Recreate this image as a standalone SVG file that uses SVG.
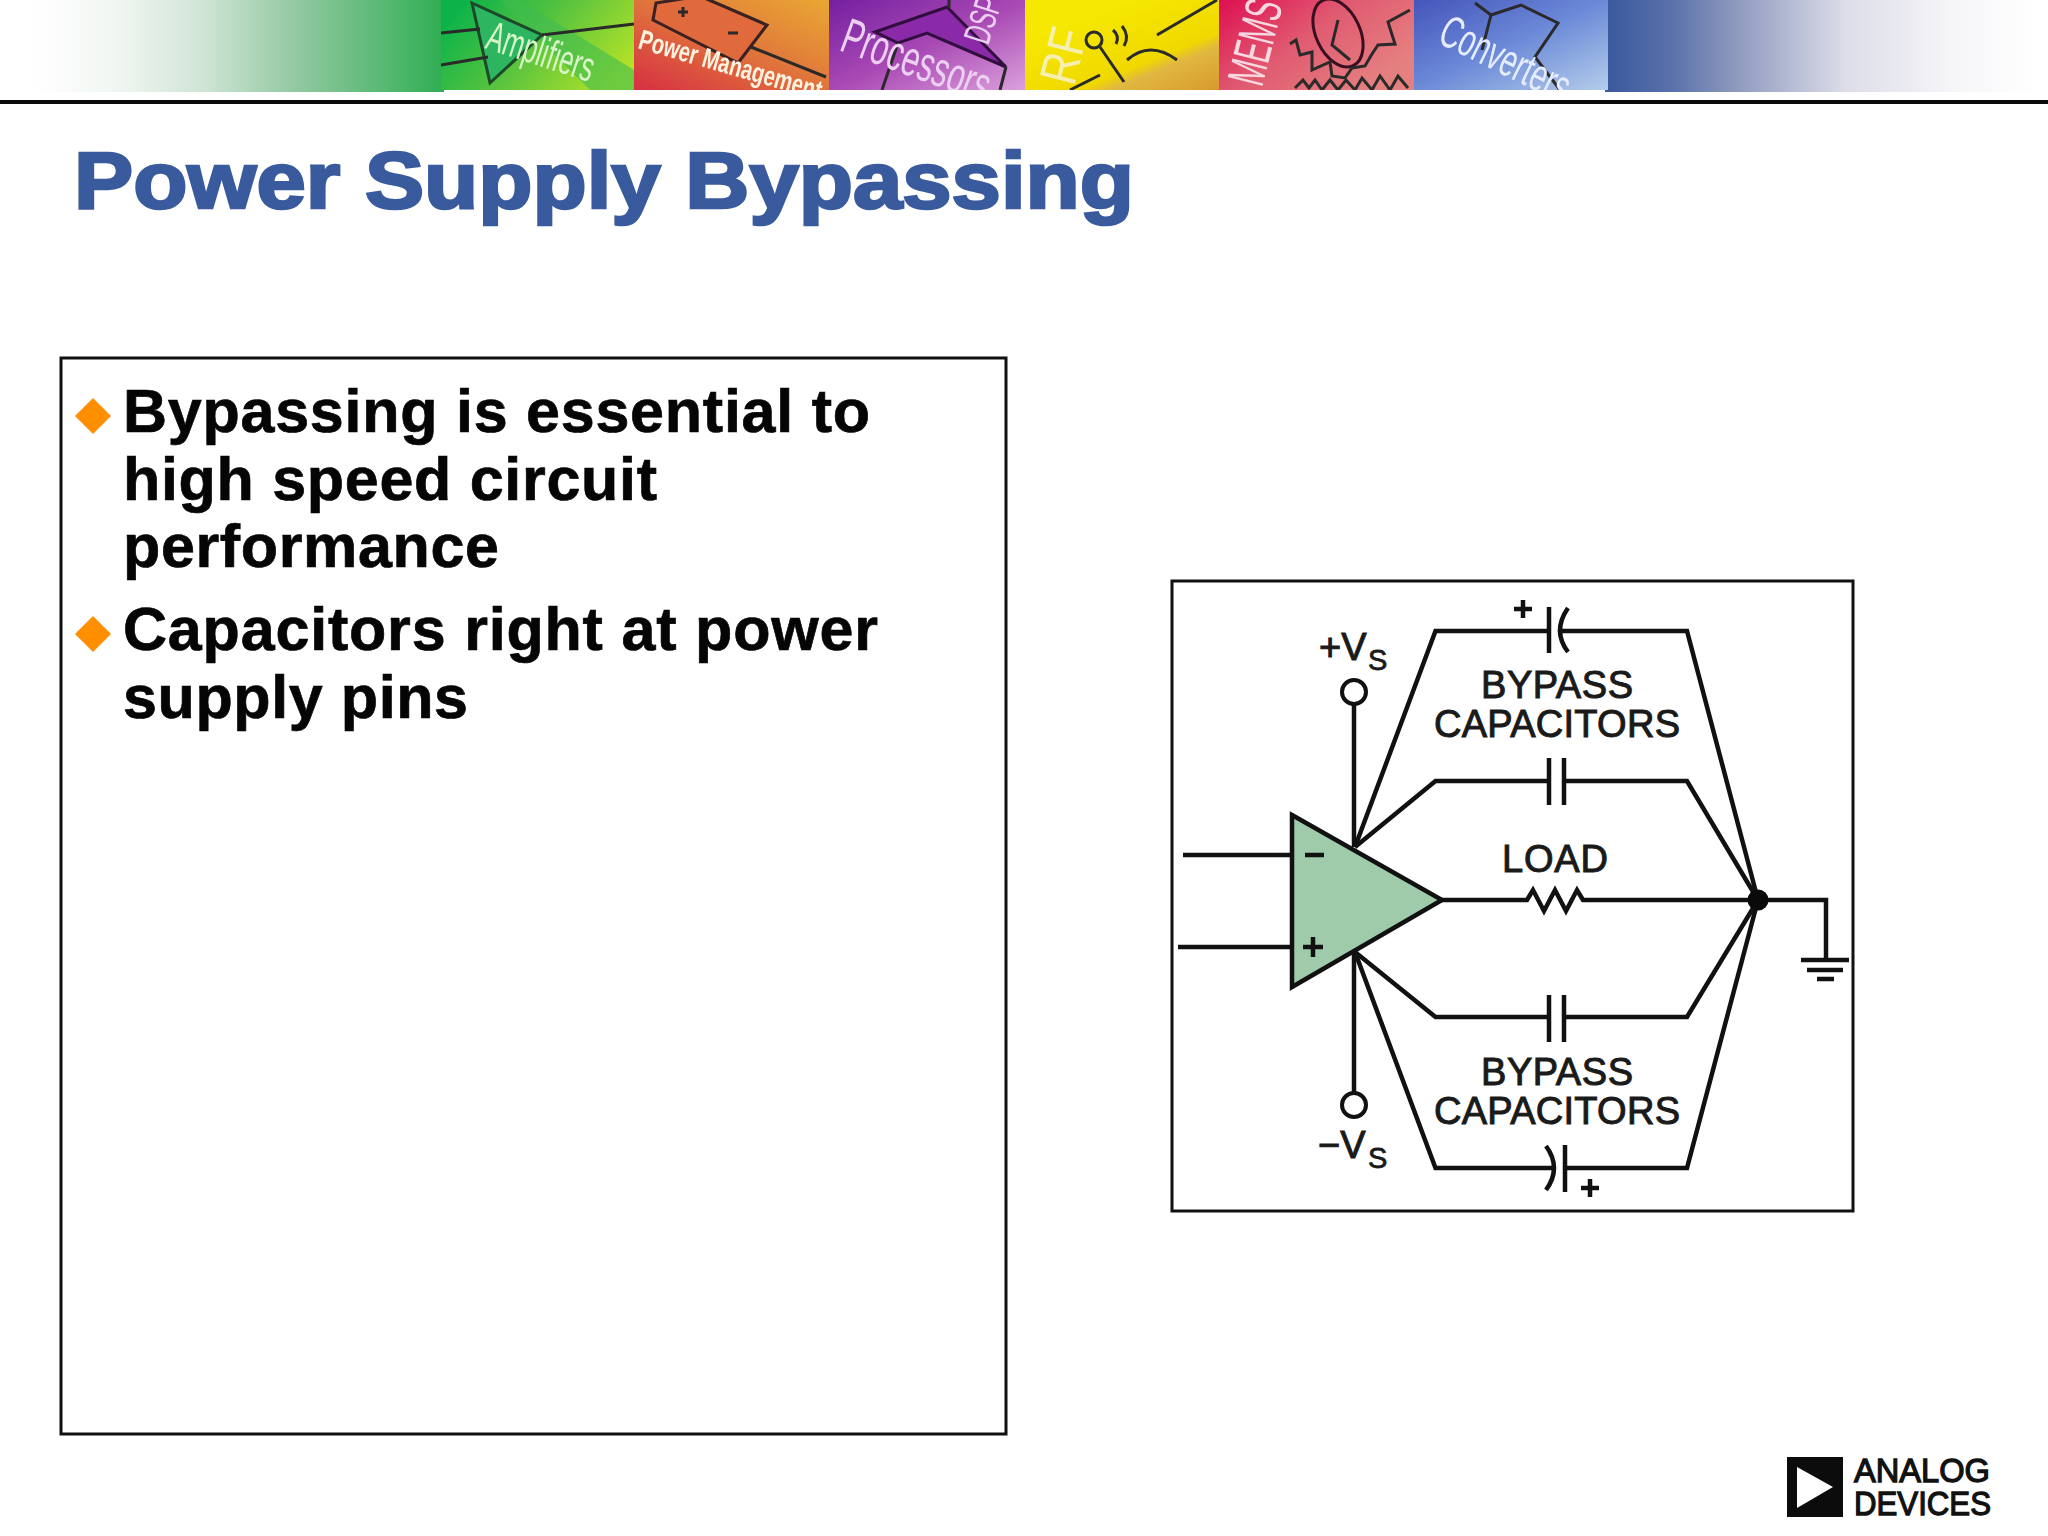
<svg xmlns="http://www.w3.org/2000/svg" width="2048" height="1536" viewBox="0 0 2048 1536">
<style>
text{font-family:"Liberation Sans",Arial,sans-serif}
.w{fill:none;stroke:#111;stroke-width:4.500;stroke-linejoin:miter}
.t{fill:none;stroke:#2a2a2a;stroke-width:3}
.lbl{font-size:38px;fill:#1a1a1a;stroke:#1a1a1a;stroke-width:1}
.sub{font-size:29px;fill:#1a1a1a;stroke:#1a1a1a;stroke-width:.8}
.body{font-size:61px;font-weight:bold;fill:#050505;stroke:#050505;stroke-width:.7}
.bul{fill:#ff8f00}
.box{fill:#fff;stroke:#111;stroke-width:3}
.logo{font-size:34px;fill:#111;stroke:#111;stroke-width:1.300}
</style>
<defs>
<filter id="soft" x="-2%" y="-2%" width="104%" height="104%"><feGaussianBlur stdDeviation=".7"/></filter>
<linearGradient id="gl" x1="30" x2="444" y1="0" y2="0" gradientUnits="userSpaceOnUse"><stop offset="0" stop-color="#fff"/><stop offset=".2" stop-color="#f2f7f3"/><stop offset=".42" stop-color="#cfe4d5"/><stop offset=".65" stop-color="#90c8a0"/><stop offset="1" stop-color="#2fae52"/></linearGradient>
<linearGradient id="gr" x1="1608" x2="2040" y1="0" y2="0" gradientUnits="userSpaceOnUse"><stop offset="0" stop-color="#3a5a9e"/><stop offset=".15" stop-color="#5a72aa"/><stop offset=".3" stop-color="#8f9bbf"/><stop offset=".55" stop-color="#dcdde8"/><stop offset=".8" stop-color="#f6f6f9"/><stop offset="1" stop-color="#fff"/></linearGradient>
<linearGradient id="p1" x1="0" x2="1" y1="0.3" y2="0.7"><stop offset="0" stop-color="#0cb34a"/><stop offset=".45" stop-color="#55c23f"/><stop offset="1" stop-color="#b4e228"/></linearGradient>
<linearGradient id="p2" x1="0" x2="1" y1="1" y2="0"><stop offset="0" stop-color="#d62f42"/><stop offset=".6" stop-color="#e2803a"/><stop offset="1" stop-color="#e9a832"/></linearGradient>
<linearGradient id="p3" x1="0" x2="1" y1="0" y2="1"><stop offset="0" stop-color="#7420a0"/><stop offset=".5" stop-color="#a848b4"/><stop offset="1" stop-color="#dca0dc"/></linearGradient>
<linearGradient id="p4" x1="0.3" x2="1" y1="0.2" y2="1"><stop offset="0" stop-color="#f6e800"/><stop offset=".55" stop-color="#f0d800"/><stop offset=".65" stop-color="#e0b840"/><stop offset="1" stop-color="#d89a2c"/></linearGradient>
<linearGradient id="p5" x1="0" x2="1" y1="0" y2="0.6"><stop offset="0" stop-color="#de0f52"/><stop offset=".5" stop-color="#e05a70"/><stop offset="1" stop-color="#e58080"/></linearGradient>
<linearGradient id="p6" x1="0" x2="1" y1="0" y2="1"><stop offset="0" stop-color="#4555bb"/><stop offset=".5" stop-color="#6c8ad8"/><stop offset="1" stop-color="#b4cdea"/></linearGradient>
<clipPath id="c1"><rect x="441" y="0" width="193" height="90"/></clipPath>
<clipPath id="c2"><rect x="634" y="0" width="195" height="90"/></clipPath>
<clipPath id="c3"><rect x="829" y="0" width="196" height="90"/></clipPath>
<clipPath id="c4"><rect x="1025" y="0" width="194" height="90"/></clipPath>
<clipPath id="c5"><rect x="1219" y="0" width="195" height="90"/></clipPath>
<clipPath id="c6"><rect x="1414" y="0" width="194" height="90"/></clipPath>
</defs>
<rect width="2048" height="1536" fill="#fff"/>
<g id="header">
<rect x="30" y="0" width="414" height="92" fill="url(#gl)"/>
<rect x="1605" y="0" width="435" height="92" fill="url(#gr)"/>
<g clip-path="url(#c1)"><g id="panel-amplifiers" filter="url(#soft)">
<rect x="441" y="0" width="193" height="90" fill="url(#p1)"/>
<path d="M520 0L634 70V90H590L500 0Z" fill="#3fbd50" opacity=".6"/>
<path d="M472 3L542 35L490 83Z" fill="#2eb560" stroke="#1c4a2a" stroke-width="3"/>
<path d="M542 35L634 24M441 33L480 29M441 65L488 57" class="t" stroke="#1c4a2a"/>
<text transform="translate(484 48) rotate(18) scale(.6 1)" font-size="42" fill="#d8f5c8">Amplifiers</text>
</g></g>
<g clip-path="url(#c2)"><g id="panel-power" filter="url(#soft)">
<rect x="634" y="0" width="195" height="90" fill="url(#p2)"/>
<path d="M656 3L700 -4L767 25L738 63L653 20Z" fill="#e06a3a" stroke="#3a2020" stroke-width="3"/>
<path d="M751 47L826 77" class="t"/>
<path d="M678 12H688M683 7V17M728 33H738" class="t"/>
<text transform="translate(637 48) rotate(16) scale(.72 1)" font-size="28" font-weight="bold" fill="#fff3e0">Power Management</text>
</g></g>
<g clip-path="url(#c3)"><g id="panel-processors" filter="url(#soft)">
<rect x="829" y="0" width="196" height="90" fill="url(#p3)"/>
<path d="M875 32L947 7L1006 67L927 33L898 43Z" fill="#8a2aa8" stroke="#301040" stroke-width="3"/>
<path d="M898 43L882 90M949 0V8M1006 67L1000 90" class="t"/>
<text transform="translate(838 50) rotate(20) scale(.62 1)" font-size="50" fill="#ecd0f2">Processors</text>
<text transform="translate(988 46) rotate(-72) scale(.6 1)" font-size="38" fill="#ecd0f2">DSP</text>
</g></g>
<g clip-path="url(#c4)"><g id="panel-rf" filter="url(#soft)">
<rect x="1025" y="0" width="194" height="90" fill="url(#p4)"/>
<path d="M1217 0L1157 35M1070 90L1100 75M1100 47L1124 82M1127 60Q1150 40 1177 60" class="t" stroke="#222"/>
<circle cx="1094" cy="40" r="8" class="t"/>
<path d="M1113 30Q1120 36 1116 44M1122 26Q1130 36 1124 46" class="t" stroke-width="2"/>
<text transform="translate(1074 87) rotate(-76) scale(.8 1)" font-size="52" fill="#f6efb0">RF</text>
</g></g>
<g clip-path="url(#c5)"><g id="panel-mems" filter="url(#soft)">
<rect x="1219" y="0" width="195" height="90" fill="url(#p5)"/>
<ellipse cx="1338" cy="33" rx="22" ry="36" transform="rotate(-25 1338 33)" fill="none" stroke="#3a1020" stroke-width="3"/>
<path d="M1290 44L1296 40L1300 55L1312 52L1312 70L1330 62L1332 76L1345 78L1352 68L1365 66L1372 54L1378 45L1395 44L1388 22L1410 10M1295 88L1303 80L1309 88L1315 80L1322 90L1330 80L1338 90L1346 80L1355 90L1362 78L1372 90L1380 76L1390 90L1398 76L1408 88" class="t" stroke="#4a1828"/>
<path d="M1338 20L1332 45L1350 60" class="t" stroke="#4a1828"/>
<text transform="translate(1262 88) rotate(-76) scale(.55 1)" font-size="52" fill="#f8d8e0">MEMS</text>
</g></g>
<g clip-path="url(#c6)"><g id="panel-converters" filter="url(#soft)">
<rect x="1414" y="0" width="194" height="90" fill="url(#p6)"/>
<path d="M1475 3L1491 15L1521 5L1558 23L1535 57L1560 90M1491 15L1482 50" class="t" stroke="#223060"/>
<text transform="translate(1436 42) rotate(26) scale(.62 1)" font-size="46" fill="#e6ecff">Converters</text>
</g></g>
<rect x="0" y="100" width="2048" height="4" fill="#0a0a0a"/>
</g>
<text id="title" x="74" y="208" font-size="79" font-weight="bold" fill="#3a5a9e" stroke="#3a5a9e" stroke-width="2.600" textLength="1060" lengthAdjust="spacingAndGlyphs">Power Supply Bypassing</text>
<g id="text-box">
<rect class="box" x="61" y="358" width="945" height="1076"/>
<path class="bul" d="M93 398L111 416L93 434L75 416Z"/>
<text class="body" x="123" y="432" textLength="747">Bypassing is essential to</text>
<text class="body" x="123" y="500" textLength="534">high speed circuit</text>
<text class="body" x="123" y="567" textLength="376">performance</text>
<path class="bul" d="M93 616L111 634L93 652L75 634Z"/>
<text class="body" x="123" y="650" textLength="755">Capacitors right at power</text>
<text class="body" x="123" y="718" textLength="345">supply pins</text>
</g>
<rect id="diagram-frame" class="box" x="1172" y="581" width="681" height="630"/>
<g id="connectors">
<path class="w" d="M1183 855H1292M1178 947H1292"/>
<path class="w" d="M1354 705V847M1354 952V1093"/>
<path class="w" d="M1355 847L1435.500 631H1548M1558 631H1687L1758 900"/>
<path class="w" d="M1355 847L1435.500 781H1549M1564 781H1687L1758 900"/>
<path class="w" d="M1355 952L1435.500 1017H1549M1564 1017H1687L1758 900"/>
<path class="w" d="M1355 952L1435.500 1168H1553M1565 1168H1687L1758 900"/>
<path class="w" d="M1441 900H1527L1533 890L1544 911L1555 890L1566 911L1577 890L1583 900H1826V960"/>
</g>
<g id="opamp">
<path d="M1292 815L1442 900L1292 987Z" fill="#9fcbaa" stroke="#111" stroke-width="4.500"/>
<path class="w" d="M1305 855H1324M1303 947H1323M1313 937V957"/>
</g>
<g id="vs-plus">
<ellipse cx="1354" cy="692" rx="12" ry="12" fill="#fff" stroke="#111" stroke-width="4"/>
<text class="lbl" x="1319" y="660">+V</text><text class="sub" x="1368" y="670">S</text>
</g>
<g id="vs-minus">
<ellipse cx="1354" cy="1105" rx="12" ry="12" fill="#fff" stroke="#111" stroke-width="4"/>
<text class="lbl" x="1318" y="1158">−V</text><text class="sub" x="1368" y="1168">S</text>
</g>
<g id="cap-top">
<path class="w" d="M1549 607V653M1568 608Q1552 631 1568 652"/>
<path class="w" d="M1514 609H1532M1523 600V618"/>
</g>
<g id="cap-upper"><path class="w" d="M1549 758V805M1564 758V805"/></g>
<g id="cap-lower"><path class="w" d="M1549 995V1042M1564 995V1042"/></g>
<g id="cap-bottom">
<path class="w" d="M1546 1146Q1562 1168 1546 1190M1565 1145V1192"/>
<path class="w" d="M1581 1188H1599M1590 1179V1197"/>
</g>
<g id="labels">
<text class="lbl" x="1481" y="698" textLength="152">BYPASS</text>
<text class="lbl" x="1434" y="737" textLength="246">CAPACITORS</text>
<text class="lbl" x="1502" y="872" textLength="106">LOAD</text>
<text class="lbl" x="1481" y="1085" textLength="152">BYPASS</text>
<text class="lbl" x="1434" y="1124" textLength="246">CAPACITORS</text>
</g>
<g id="junction"><circle cx="1758" cy="900" r="10.500" fill="#0a0a0a"/></g>
<g id="ground"><path class="w" d="M1801 960H1849M1807 970H1843M1817 979H1834"/></g>
<g id="logo">
<rect x="1787" y="1457" width="56" height="60" fill="#0c0c0c"/>
<path d="M1797 1467L1833 1487L1797 1508Z" fill="#fff"/>
<text class="logo" x="1854" y="1482" textLength="136" lengthAdjust="spacingAndGlyphs">ANALOG</text>
<text class="logo" x="1854" y="1515" textLength="137" lengthAdjust="spacingAndGlyphs">DEVICES</text>
</g>
</svg>
